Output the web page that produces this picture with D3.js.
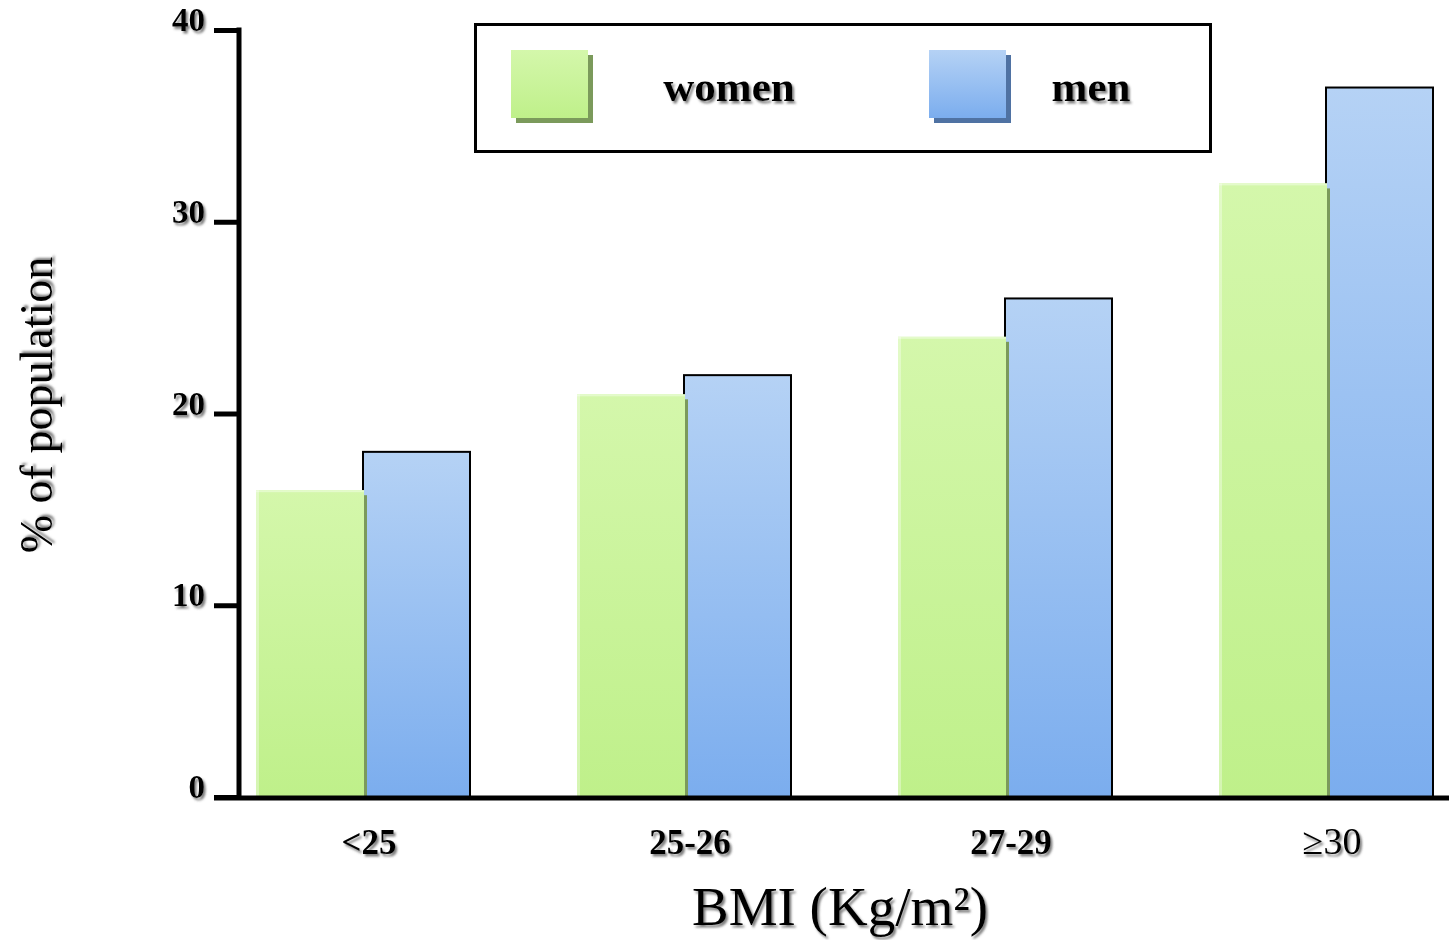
<!DOCTYPE html>
<html>
<head>
<meta charset="utf-8">
<script src="https://cdn.jsdelivr.net/npm/d3@7"></script>
<style>
  html, body { margin: 0; padding: 0; background: #fff; }
  svg { display: block; }
  text { font-family: "Liberation Serif", "Times New Roman", serif; fill: #000; }
</style>
</head>
<body>
<svg id="chart" width="1449" height="940"></svg>
<script>
// BMI categories and share of population (%) by sex
const categories = ["<25", "25-26", "27-29", "\u226530"];
const women = [16, 21, 24, 32];
const men = [18, 22, 26, 37];
const seriesNames = ["women", "men"];
const yTicks = [0, 10, 20, 30, 40];

const svg = d3.select("#chart");
const defs = svg.append("defs");

// soft grey drop shadow used for every label
const shadow = defs.append("filter").attr("id", "txtShadow")
  .attr("x", "-20%").attr("y", "-20%").attr("width", "140%").attr("height", "140%");
shadow.append("feDropShadow").attr("dx", 2).attr("dy", 2.5)
  .attr("stdDeviation", 1.3).attr("flood-color", "#555").attr("flood-opacity", 0.75);

function vGrad(id, top, bottom) {
  const g = defs.append("linearGradient").attr("id", id)
    .attr("x1", 0).attr("y1", 0).attr("x2", 0).attr("y2", 1);
  g.append("stop").attr("offset", "0%").attr("stop-color", top);
  g.append("stop").attr("offset", "100%").attr("stop-color", bottom);
}
vGrad("gWomen", "#d4f7ab", "#bff08a");
vGrad("gMen", "#b5d2f5", "#7badee");

const fills = { women: "url(#gWomen)", men: "url(#gMen)" };
const shadowCol = { women: "#7b9a5b", men: "#4f72a3" };

// scales
const y = d3.scaleLinear().domain([0, 40]).range([797, 30]);
const x = d3.scaleBand().domain(categories).range([202.5, 1486.5])
  .paddingInner(1 / 3).paddingOuter(1 / 6);
const xs = d3.scaleBand().domain(seriesNames).range([0, x.bandwidth()]);

const rows = categories.map((c, i) => ({ cat: c, women: women[i], men: men[i] }));

// men bars (outlined), drawn first so the women bars overlap their left edge
svg.append("g").selectAll("rect").data(rows).join("rect")
  .attr("x", d => x(d.cat) + xs("men"))
  .attr("y", d => y(d.men))
  .attr("width", xs.bandwidth())
  .attr("height", d => y(0) - y(d.men))
  .attr("fill", fills.men)
  .attr("stroke", "#000").attr("stroke-width", 2);

// women bars with a dark green side shadow and light top edge
const gw = svg.append("g").selectAll("g").data(rows).join("g");
gw.append("rect")
  .attr("x", d => x(d.cat) + xs("women") + xs.bandwidth() + 1)
  .attr("y", d => y(d.women) + 5)
  .attr("width", 3)
  .attr("height", d => y(0) - y(d.women) - 5)
  .attr("fill", shadowCol.women);
gw.append("rect")
  .attr("x", d => x(d.cat) + xs("women"))
  .attr("y", d => y(d.women))
  .attr("width", xs.bandwidth() + 1)
  .attr("height", d => y(0) - y(d.women))
  .attr("fill", fills.women);
gw.append("rect")
  .attr("x", d => x(d.cat) + xs("women"))
  .attr("y", d => y(d.women))
  .attr("width", xs.bandwidth() + 1)
  .attr("height", 2)
  .attr("fill", "#e4fbcb");
gw.append("rect")
  .attr("x", d => x(d.cat) + xs("women"))
  .attr("y", d => y(d.women))
  .attr("width", 3)
  .attr("height", d => y(0) - y(d.women))
  .attr("fill", "#ffffff").attr("opacity", 0.35);

// y axis
const yAxis = svg.append("g").attr("transform", "translate(239,0)")
  .call(d3.axisLeft(y).tickValues(yTicks).tickSize(25).tickFormat(d3.format("d")));
yAxis.select(".domain").remove();
yAxis.selectAll(".tick line").attr("stroke", "#000").attr("stroke-width", 5);
yAxis.selectAll(".tick text")
  .attr("x", -34).attr("dy", "0.02em")
  .attr("font-size", 33).attr("font-weight", "bold")
  .attr("font-family", "'Liberation Serif', serif")
  .attr("filter", "url(#txtShadow)");
svg.append("line").attr("x1", 239).attr("x2", 239).attr("y1", 27.5).attr("y2", 800)
  .attr("stroke", "#000").attr("stroke-width", 5);

// x axis
svg.append("line").attr("x1", 214).attr("x2", 1449).attr("y1", y(0) + 1).attr("y2", y(0) + 1)
  .attr("stroke", "#000").attr("stroke-width", 5);
const xAxis = svg.append("g").attr("transform", `translate(6,${y(0)})`)
  .call(d3.axisBottom(x).tickSize(0).tickPadding(0));
xAxis.select(".domain").remove();
xAxis.selectAll(".tick text")
  .attr("y", 57).attr("dy", 0)
  .attr("font-size", d => d.startsWith("\u2265") ? 38 : 35)
  .attr("font-family", d => d.startsWith("\u2265") ? "'Liberation Sans', sans-serif" : "'Liberation Serif', serif")
  .attr("font-weight", d => d.startsWith("\u2265") ? "normal" : "bold")
  .attr("filter", "url(#txtShadow)");

// axis titles
svg.append("text").attr("x", 840).attr("y", 925).attr("text-anchor", "middle")
  .attr("font-size", 55).attr("filter", "url(#txtShadow)")
  .text("BMI (Kg/m\u00b2)");
svg.append("text").attr("transform", "translate(52,405) rotate(-90)")
  .attr("text-anchor", "middle").attr("font-size", 46).attr("filter", "url(#txtShadow)")
  .text("% of population");

// legend
svg.append("rect").attr("x", 475.5).attr("y", 24.5).attr("width", 735).attr("height", 127)
  .attr("fill", "none").attr("stroke", "#000").attr("stroke-width", 3);
const legendX = { women: 511, men: 929 };
const legendTextX = { women: 729, men: 1091 };
seriesNames.forEach(s => {
  const lg = svg.append("g");
  lg.append("rect").attr("x", legendX[s] + 5).attr("y", 55).attr("width", 77).attr("height", 68)
    .attr("fill", shadowCol[s]);
  lg.append("rect").attr("x", legendX[s]).attr("y", 50).attr("width", 77).attr("height", 68)
    .attr("fill", fills[s]);
  lg.append("text").attr("x", legendTextX[s]).attr("y", 101).attr("text-anchor", "middle")
    .attr("font-size", 43).attr("font-weight", "bold").attr("filter", "url(#txtShadow)")
    .text(s);
});
</script>
</body>
</html>
